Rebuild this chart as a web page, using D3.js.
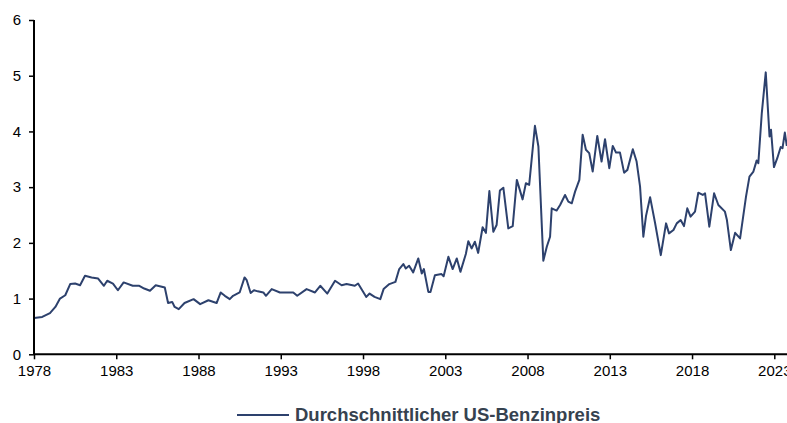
<!DOCTYPE html>
<html>
<head>
<meta charset="utf-8">
<script src="https://cdn.jsdelivr.net/npm/d3@7"></script>
<style>
  html, body { margin: 0; padding: 0; background: #fff; }
  svg { display: block; }
</style>
</head>
<body>
<svg id="chart" width="787" height="423"></svg>
<script>
// Decimal year of each reading and the average US gasoline price (USD/gallon)
const years = [
  1978.0, 1978.5, 1978.97, 1979.3, 1979.58, 1979.9, 1980.2, 1980.5, 1980.8, 1981.1, 1981.5, 1981.9,
  1982.25, 1982.45, 1982.8, 1983.1, 1983.45, 1984.0, 1984.4, 1984.7, 1985.05, 1985.4, 1985.95,
  1986.15, 1986.4, 1986.55, 1986.8, 1987.15, 1987.7, 1988.1, 1988.6, 1989.1, 1989.35, 1989.6, 1989.9,
  1990.1, 1990.5, 1990.8, 1990.93, 1991.17, 1991.37, 1991.6, 1991.94, 1992.1, 1992.45, 1992.95,
  1993.46, 1993.76, 1994.0, 1994.57, 1995.08, 1995.4, 1995.83, 1996.3, 1996.7, 1997.0, 1997.5,
  1997.7, 1998.2, 1998.4, 1998.7, 1999.05, 1999.25, 1999.6, 1999.97, 2000.2, 2000.45, 2000.6, 2000.8,
  2001.05, 2001.36, 2001.57, 2001.7, 2001.97, 2002.1, 2002.37, 2002.77, 2002.9, 2003.19, 2003.45,
  2003.7, 2003.92, 2004.25, 2004.4, 2004.6, 2004.8, 2005.0, 2005.27, 2005.47, 2005.68, 2005.92,
  2006.12, 2006.32, 2006.53, 2006.83, 2007.1, 2007.35, 2007.7, 2007.9, 2008.1, 2008.45, 2008.66,
  2008.96, 2009.17, 2009.37, 2009.47, 2009.77, 2009.98, 2010.28, 2010.48, 2010.69, 2010.89, 2011.15,
  2011.35, 2011.55, 2011.75, 2011.96, 2012.24, 2012.5, 2012.71, 2012.97, 2013.18, 2013.38, 2013.62,
  2013.87, 2014.07, 2014.4, 2014.63, 2014.84, 2015.04, 2015.2, 2015.45, 2015.75, 2016.1, 2016.42,
  2016.6, 2016.87, 2017.07, 2017.31, 2017.51, 2017.71, 2017.91, 2018.18, 2018.38, 2018.65, 2018.79,
  2019.05, 2019.34, 2019.6, 2020.0, 2020.12, 2020.36, 2020.62, 2020.92, 2021.28, 2021.49, 2021.73,
  2021.93, 2022.03, 2022.24, 2022.48, 2022.71, 2022.8, 2022.98, 2023.18, 2023.39, 2023.5, 2023.64,
  2023.76
];
const prices = [
  0.65, 0.67, 0.74, 0.85, 1.00, 1.06, 1.26, 1.27, 1.24, 1.41, 1.38, 1.36,
  1.23, 1.32, 1.27, 1.15, 1.29, 1.23, 1.23, 1.18, 1.14, 1.24, 1.20,
  0.92, 0.94, 0.85, 0.81, 0.92, 0.99, 0.90, 0.97, 0.92, 1.11, 1.05, 0.99,
  1.05, 1.11, 1.38, 1.33, 1.10, 1.15, 1.13, 1.11, 1.05, 1.17, 1.11,
  1.11, 1.11, 1.05, 1.17, 1.11, 1.23, 1.09, 1.32, 1.24, 1.26, 1.23,
  1.27, 1.03, 1.09, 1.03, 0.99, 1.17, 1.26, 1.30, 1.53, 1.62, 1.54, 1.59,
  1.47, 1.72, 1.45, 1.53, 1.12, 1.12, 1.42, 1.44, 1.40, 1.75, 1.53,
  1.72, 1.48, 1.80, 2.03, 1.90, 2.02, 1.82, 2.28, 2.18, 2.93, 2.20,
  2.32, 2.94, 2.99, 2.26, 2.30, 3.13, 2.78, 3.07, 3.04, 4.10, 3.73,
  1.68, 1.93, 2.11, 2.62, 2.58, 2.68, 2.86, 2.74, 2.71, 2.92, 3.13,
  3.94, 3.67, 3.61, 3.28, 3.92, 3.46, 3.86, 3.34, 3.74, 3.62, 3.62,
  3.26, 3.31, 3.68, 3.46, 3.01, 2.11, 2.48, 2.82, 2.36, 1.78, 2.35,
  2.17, 2.23, 2.35, 2.41, 2.30, 2.62, 2.47, 2.56, 2.90, 2.86, 2.89,
  2.29, 2.89, 2.68, 2.56, 2.41, 1.87, 2.18, 2.08, 2.83, 3.19, 3.28,
  3.48, 3.43, 4.33, 5.06, 3.91, 4.03, 3.36, 3.52, 3.72, 3.70, 3.98,
  3.74
];
const xTicks = [1978, 1983, 1988, 1993, 1998, 2003, 2008, 2013, 2018, 2023];
const yTicks = [0, 1, 2, 3, 4, 5, 6];
const seriesName = "Durchschnittlicher US-Benzinpreis";

const data = years.map((y, i) => ({ year: y, price: prices[i] }));

const svg = d3.select("#chart");
const lineColor = "#2d416d";
const fontFam = "'Liberation Sans', Arial, sans-serif";

const x = d3.scaleLinear().domain([1978, 2023]).range([34, 774.3]);
const y = d3.scaleLinear().domain([0, 6]).range([354.3, 20]);

// Line (clipped at svg edge)
svg.append("path")
  .datum(data)
  .attr("fill", "none")
  .attr("stroke", lineColor)
  .attr("stroke-width", 2)
  .attr("stroke-linejoin", "round")
  .attr("d", d3.line().x(d => x(d.year)).y(d => y(d.price)));

// Y axis
const yAxis = svg.append("g")
  .attr("transform", "translate(34,0)")
  .call(d3.axisLeft(y).tickValues(yTicks).tickSize(5).tickPadding(8).tickFormat(d3.format("d")));
// X axis
const xAxis = svg.append("g")
  .attr("transform", `translate(0,${y(0)})`)
  .call(d3.axisBottom(x).tickValues(xTicks).tickSize(5).tickPadding(6).tickFormat(d3.format("d")));

[yAxis, xAxis].forEach(g => {
  g.select(".domain").attr("stroke", "#000").attr("stroke-width", 2);
  g.selectAll(".tick line").attr("stroke", "#000").attr("stroke-width", 1.5);
  g.selectAll("text").attr("fill", "#000").style("font-family", fontFam).style("font-size", "15px");
});
yAxis.select(".domain").attr("d", `M0,${y(0)}V${y(6)}`);
xAxis.select(".domain").attr("d", `M${x(1978)},0H787`);

// Legend
const leg = svg.append("g");
leg.append("line")
  .attr("x1", 237).attr("x2", 289).attr("y1", 415).attr("y2", 415)
  .attr("stroke", lineColor).attr("stroke-width", 2);
leg.append("text")
  .attr("x", 295).attr("y", 421)
  .attr("fill", "#36424f")
  .style("font-family", fontFam)
  .style("font-size", "18.5px")
  .style("font-weight", "bold")
  .text(seriesName);
</script>
</body>
</html>
